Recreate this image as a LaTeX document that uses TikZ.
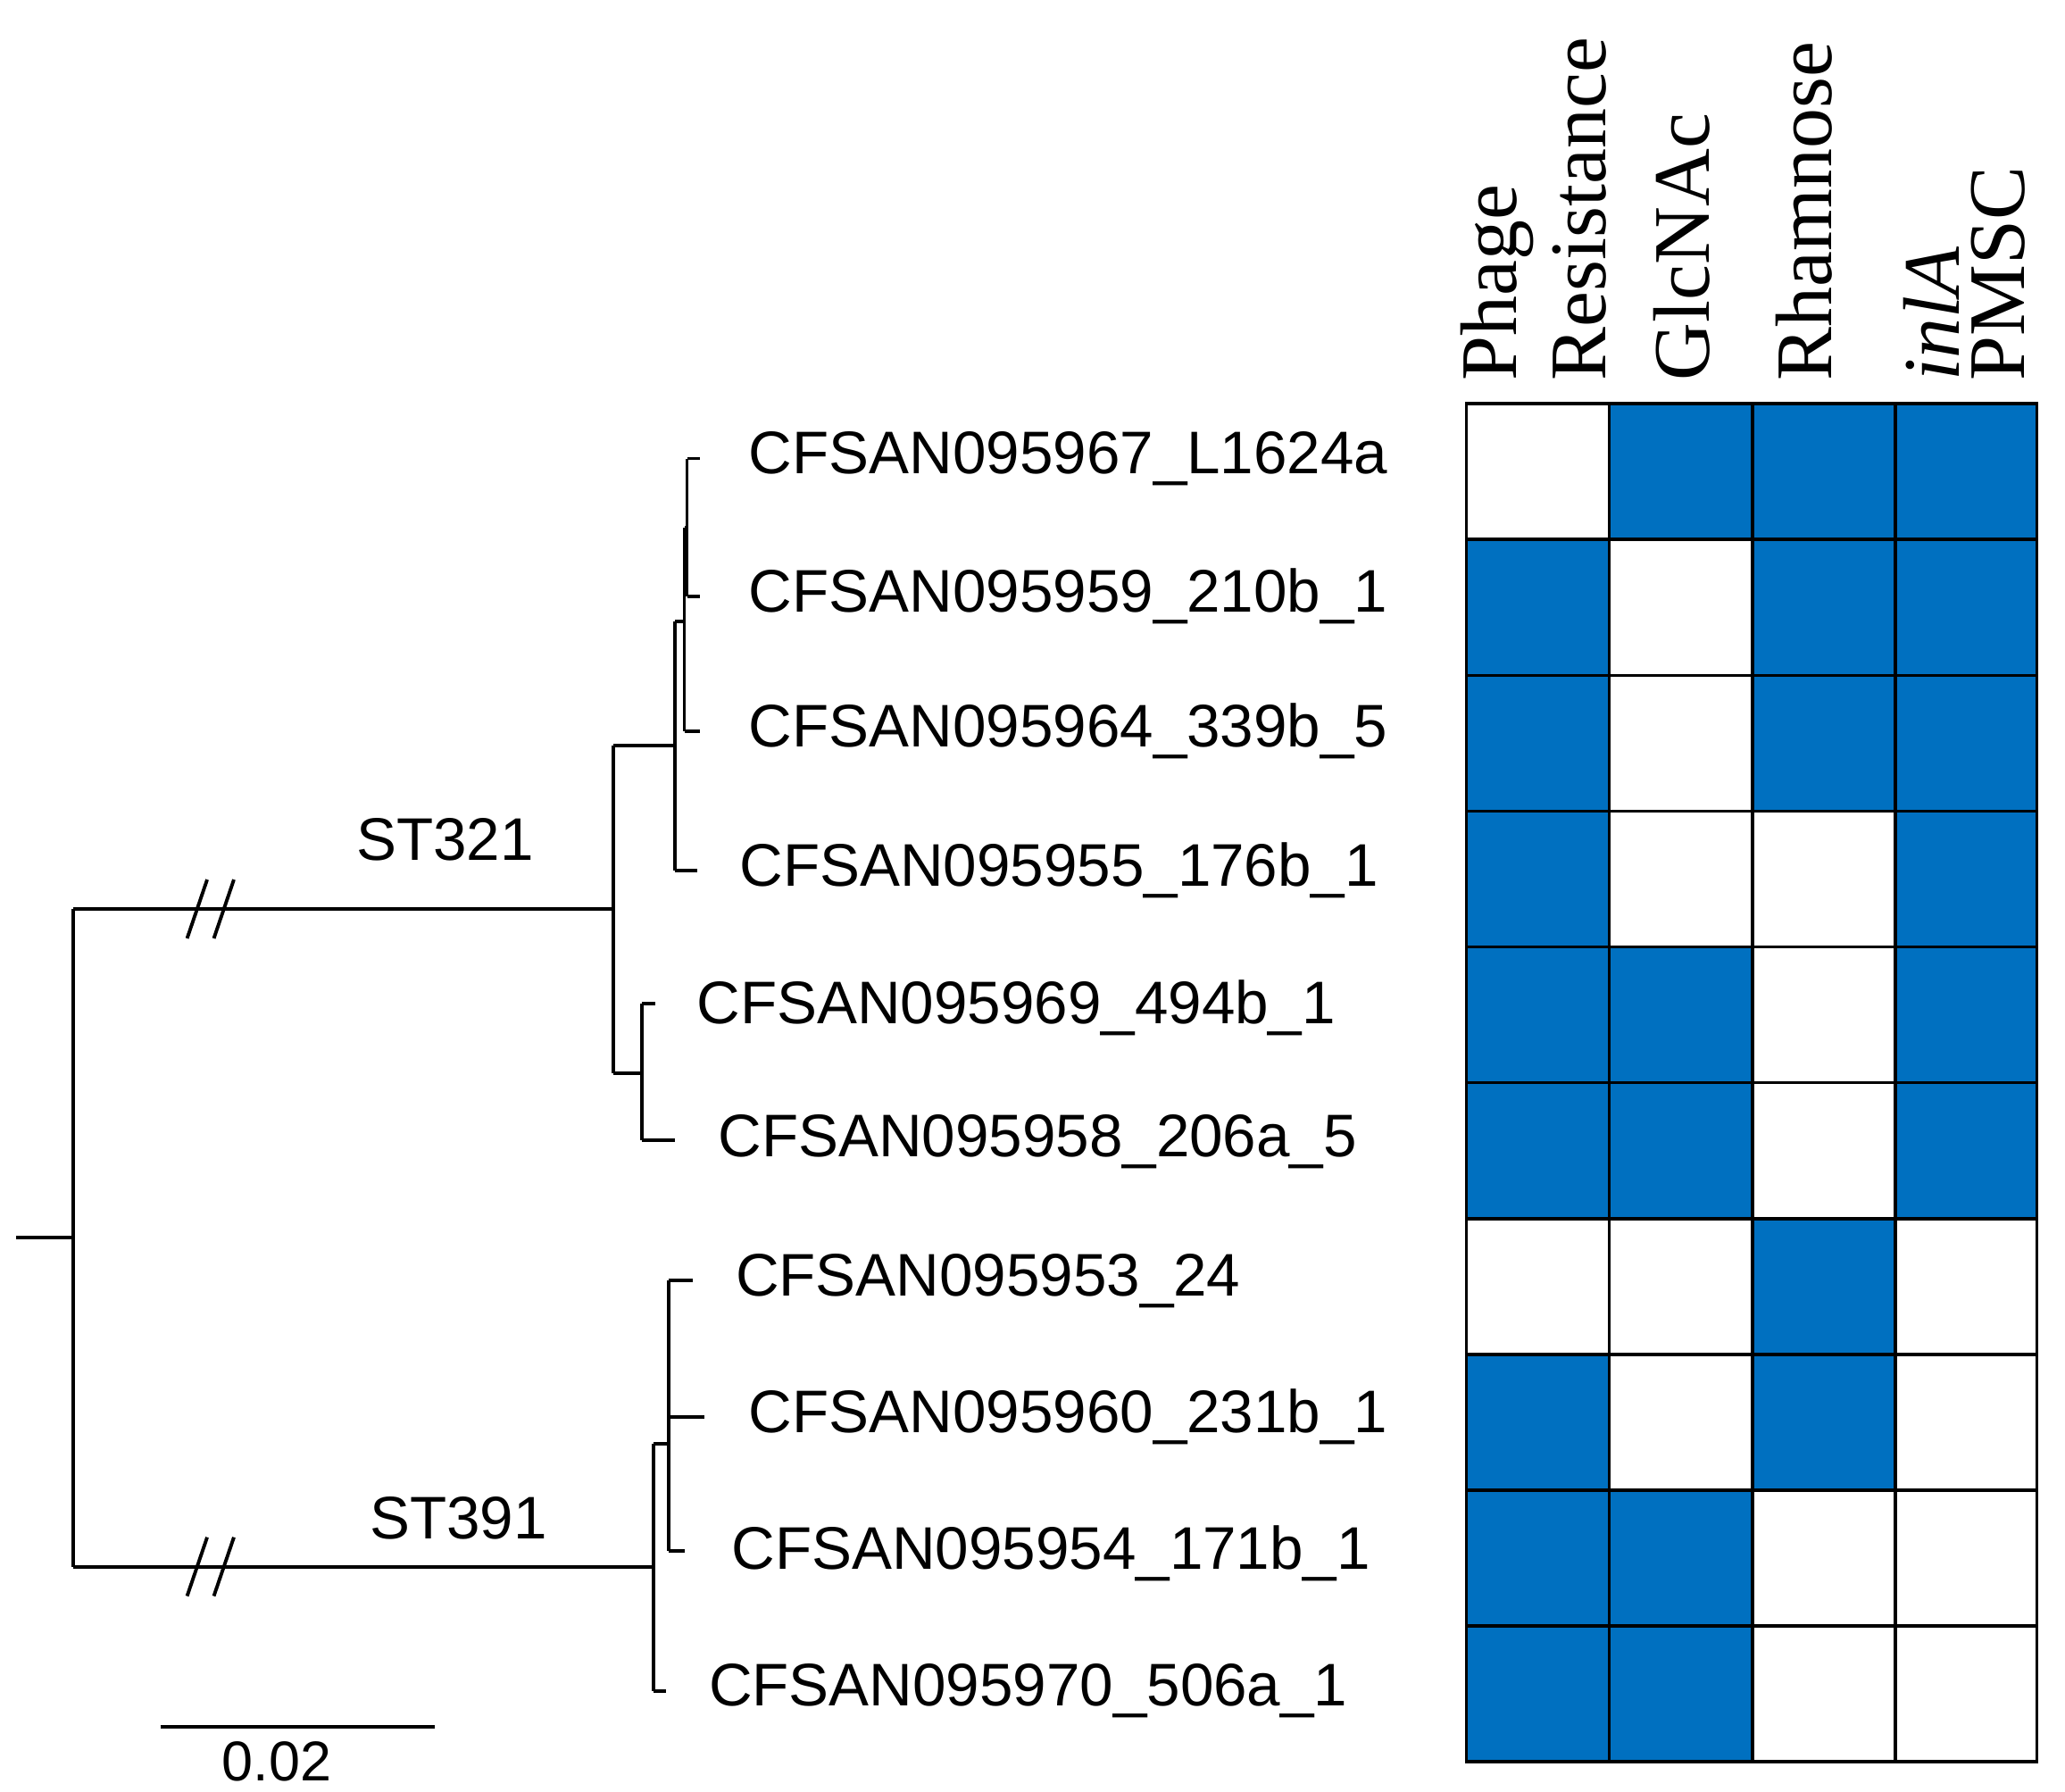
\documentclass[tikz,border=0pt]{standalone}
\usepackage{fontspec}
\setmainfont{Liberation Serif}
\setsansfont{Liberation Sans}
\begin{document}
\begin{tikzpicture}[x=0.5pt,y=-0.5pt,
  tr/.style={line width=1.3pt},
  leaf/.style={anchor=west,font=\sffamily\fontsize{22.5}{24}\selectfont,inner sep=0pt},
  hdr/.style={rotate=90,anchor=west,font=\fontsize{30}{32}\selectfont,inner sep=0pt},
  cell/.style={draw=black,line width=1.2pt},
  on/.style={cell,fill=cblue}]
\definecolor{cblue}{RGB}{0,112,192}
\useasboundingbox (0,0) rectangle (1545,1340);
% tree
\draw[tr] (12,926) -- (55,926);
\draw[tr] (55,680) -- (55,1172);
\draw[tr] (55,680) -- (459,680);
\draw[tr] (55,1172) -- (489,1172);
\foreach \y in {680,1172}{
  \draw[tr] (140,{\y+22}) -- (155,{\y-22});
  \draw[tr] (160,{\y+22}) -- (175,{\y-22});}
\node[font=\sffamily\fontsize{22.5}{24}\selectfont] (st1) at (333,628) {ST321};
\node[font=\sffamily\fontsize{22.5}{24}\selectfont] (st2) at (343,1136) {ST391};
\draw[tr] (459,558) -- (459,803);
\draw[tr] (459,558) -- (505,558);
\draw[tr] (505,465) -- (505,651);
\draw[tr] (505,465) -- (512,465);
\draw[tr] (512,395) -- (512,547);
\draw[tr] (512,395) -- (514,395);
\draw[tr] (514,343) -- (514,446);
\draw[tr] (514,343) -- (524,343);
\draw[tr] (514,446) -- (524,446);
\draw[tr] (512,547) -- (524,547);
\draw[tr] (505,651) -- (522,651);
\draw[tr] (459,803) -- (480,803);
\draw[tr] (480,751) -- (480,853);
\draw[tr] (480,751) -- (490,751);
\draw[tr] (480,853) -- (505,853);
\draw[tr] (489,1080) -- (489,1265);
\draw[tr] (489,1265) -- (498,1265);
\draw[tr] (489,1080) -- (500,1080);
\draw[tr] (500,958) -- (500,1160);
\draw[tr] (500,958) -- (518,958);
\draw[tr] (500,1060) -- (527,1060);
\draw[tr] (500,1160) -- (512,1160);
% scale
\draw[tr] (120,1292) -- (325,1292);
\node[font=\sffamily\fontsize{21}{22}\selectfont] (sc) at (207,1318) {0.02};
% leaves
\node[leaf] (l1) at (560,343) {CFSAN095967\_L1624a};
\node[leaf] (l2) at (560,446) {CFSAN095959\_210b\_1};
\node[leaf] (l3) at (560,547) {CFSAN095964\_339b\_5};
\node[leaf] (l4) at (553,651) {CFSAN095955\_176b\_1};
\node[leaf] (l5) at (521,754) {CFSAN095969\_494b\_1};
\node[leaf] (l6) at (537,854) {CFSAN095958\_206a\_5};
\node[leaf] (l7) at (550,958) {CFSAN095953\_24};
\node[leaf] (l8) at (560,1060) {CFSAN095960\_231b\_1};
\node[leaf] (l9) at (547,1162) {CFSAN095954\_171b\_1};
\node[leaf] (l10) at (530,1265) {CFSAN095970\_506a\_1};
% grid
\foreach \r/\a/\b/\c/\d [count=\i from 0] in {1/0/1/1/1,2/1/0/1/1,3/1/0/1/1,4/1/0/0/1,5/1/1/0/1,6/1/1/0/1,7/0/0/1/0,8/1/0/1/0,9/1/1/0/0,10/1/1/0/0}{
  \pgfmathsetmacro\ya{302+\i*101.6}
  \pgfmathsetmacro\yb{302+(\i+1)*101.6}
  \foreach \v/\xa/\xb in {\a/1097/1204,\b/1204/1311,\c/1311/1418,\d/1418/1524}{
    \ifnum\v=1 \draw[on] (\xa,\ya) rectangle (\xb,\yb);
    \else \draw[cell] (\xa,\ya) rectangle (\xb,\yb); \fi}}
% headers
\node[hdr] (h1) at (1120,285) {Phage};
\node[hdr] (h2) at (1182,285) {Resistance};
\node[hdr] (h3) at (1258,285) {GlcNAc};
\node[hdr] (h4) at (1350,285) {Rhamnose};
\node[hdr] (h5) at (1445,285) {\itshape inlA};
\node[hdr] (h6) at (1495,285) {PMSC};
\end{tikzpicture}
\end{document}
